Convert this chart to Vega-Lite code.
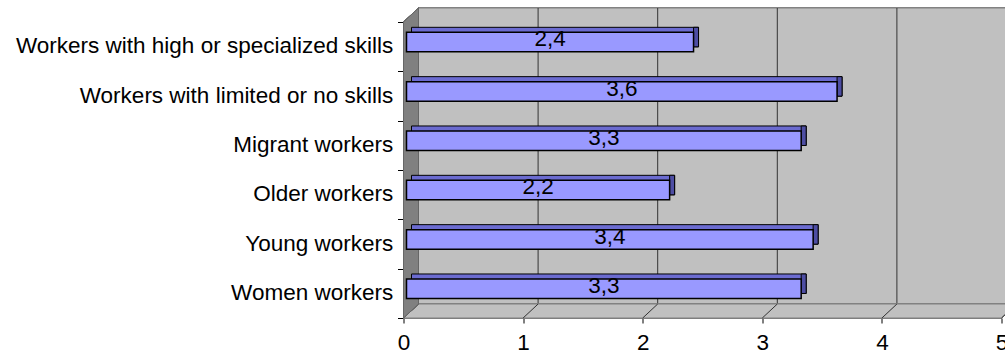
{
  "$schema": "https://vega.github.io/schema/vega-lite/v6.json",
  "width": 598,
  "height": 296,
  "autosize": {"type": "none"},
  "padding": {"left": 403.5, "top": 22, "right": 3.5, "bottom": 36},
  "background": "white",
  "datasets": {
    "scores": [
      {"group": "Workers with high or specialized skills", "value": 2.4},
      {"group": "Workers with limited or no skills", "value": 3.6},
      {"group": "Migrant workers", "value": 3.3},
      {"group": "Older workers", "value": 2.2},
      {"group": "Young workers", "value": 3.4},
      {"group": "Women workers", "value": 3.3}
    ],
    "ticks": [
      {"tick": 0}, {"tick": 1}, {"tick": 2}, {"tick": 3}, {"tick": 4}, {"tick": 5}
    ]
  },
  "data": {"name": "scores"},
  "config": {
    "font": "Liberation Sans",
    "view": {"stroke": null},
    "locale": {
      "number": {"decimal": ",", "thousands": ".", "grouping": [3], "currency": ["", " €"]}
    },
    "axisX": {
      "title": null, "tickCount": 5, "format": "d", "grid": false,
      "tickSize": 5, "tickColor": "#000000", "domainColor": "#000000",
      "labelFontSize": 22.5, "labelColor": "#000000", "labelFont": "Liberation Sans",
      "labelPadding": 8, "labelFlush": false, "labelBound": false,
      "labelOverlap": false, "zindex": 1
    },
    "axisY": {
      "title": null, "tickBand": "extent", "tickSize": 6, "tickColor": "#000000",
      "domainColor": "#000000", "labelFontSize": 22.5, "labelColor": "#000000",
      "labelFont": "Liberation Sans", "labelPadding": 4.8, "labelLimit": 0,
      "labelOffset": -1, "grid": false, "zindex": 1
    }
  },
  "layer": [
    {
      "description": "back wall, pushed back by the chart depth",
      "mark": {"type": "rect", "fill": "#c0c0c0", "stroke": "#808080", "strokeWidth": 1,
               "xOffset": 15, "x2Offset": 15, "yOffset": -14, "y2Offset": -14},
      "encoding": {
        "x": {"datum": 0, "type": "quantitative", "title": null},
        "x2": {"datum": 5},
        "y": {"value": 0},
        "y2": {"value": "height"}
      }
    },
    {
      "description": "vertical gridlines on the back wall",
      "data": {"name": "ticks"},
      "mark": {"type": "rule", "color": "#333333", "strokeWidth": 1,
               "xOffset": 15, "yOffset": -14, "y2Offset": -14},
      "encoding": {
        "x": {"field": "tick", "type": "quantitative", "title": null},
        "y": {"value": 0},
        "y2": {"value": "height"}
      }
    },
    {
      "description": "floor",
      "mark": {"type": "point", "shape": "M-1,0.02284L0.95106,0.02284L1,-0.02284L-0.95106,-0.02284Z",
               "size": 375769, "filled": true, "fill": "#c0c0c0", "stroke": "#808080", "strokeWidth": 1,
               "opacity": 1, "xOffset": 7.5, "y": {"expr": "height"}, "yOffset": -7},
      "encoding": {
        "x": {"datum": 2.5, "type": "quantitative", "title": null}
      }
    },
    {
      "description": "gridlines running across the floor",
      "data": {"name": "ticks"},
      "mark": {"type": "rule", "color": "#333333", "strokeWidth": 1, "x2Offset": 15, "y2Offset": -14},
      "encoding": {
        "x": {"field": "tick", "type": "quantitative", "title": null},
        "x2": {"field": "tick"},
        "y": {"value": "height"},
        "y2": {"value": "height"}
      }
    },
    {
      "description": "left side wall",
      "mark": {"type": "point", "shape": "M-0.04839,-0.90968L0.04839,-1L0.04839,0.90968L-0.04839,1Z",
               "size": 96100, "filled": true, "fill": "#808080", "stroke": "#666666", "strokeWidth": 1,
               "opacity": 1, "xOffset": 7.5, "y": {"expr": "height / 2"}, "yOffset": -7},
      "encoding": {
        "x": {"datum": 0, "type": "quantitative", "title": null}
      }
    },
    {
      "description": "bar top face",
      "mark": {"type": "bar", "height": 19.5, "fill": "#6b6bd0", "stroke": "#000000", "strokeWidth": 1,
               "xOffset": 8, "x2Offset": 8, "yOffset": -9.6},
      "encoding": {
        "y": {"field": "group", "type": "nominal", "sort": null, "title": null},
        "x": {"field": "value", "type": "quantitative", "title": null},
        "x2": {"datum": 0}
      }
    },
    {
      "description": "bar end face",
      "mark": {"type": "bar", "height": 19.5, "fill": "#4d4da3", "stroke": "#000000", "strokeWidth": 1,
               "xOffset": 3, "x2Offset": 8, "yOffset": -9.6},
      "encoding": {
        "y": {"field": "group", "type": "nominal", "sort": null, "title": null},
        "x": {"field": "value", "type": "quantitative", "title": null},
        "x2": {"field": "value"}
      }
    },
    {
      "description": "bar front face",
      "mark": {"type": "bar", "height": 19.5, "fill": "#9999ff", "stroke": "#000000", "strokeWidth": 1.5,
               "xOffset": 3, "x2Offset": 3, "yOffset": -4.6},
      "encoding": {
        "y": {
          "field": "group", "type": "nominal", "sort": null, "title": null,
          "scale": {"paddingInner": 0, "paddingOuter": 0}
        },
        "x": {
          "field": "value", "type": "quantitative", "title": null,
          "scale": {"domain": [0, 5], "nice": false, "zero": true}
        },
        "x2": {"datum": 0}
      }
    },
    {
      "description": "value labels centred on each bar",
      "mark": {"type": "text", "fontSize": 22.5, "color": "#000000", "align": "center",
               "baseline": "alphabetic", "dy": -0.4,
               "x": {"expr": "scale('x', datum.value) / 2 + 3"}},
      "encoding": {
        "y": {"field": "group", "type": "nominal", "sort": null, "title": null},
        "text": {"field": "value", "type": "quantitative", "format": ".1f"}
      }
    }
  ]
}
